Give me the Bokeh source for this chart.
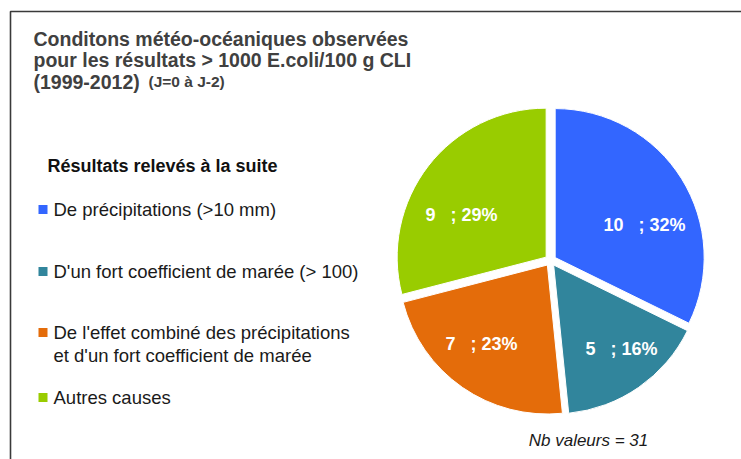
import numpy as np
from bokeh.plotting import figure
from bokeh.models import Range1d
from bokeh.core.properties import value
from bokeh.embed import file_html
from bokeh.resources import INLINE

# ---- data ----
categories = [
    "De précipitations (>10 mm)",
    "D'un fort coefficient de marée (> 100)",
    "De l'effet combiné des précipitations\net d'un fort coefficient de marée",
    "Autres causes",
]
counts = [10, 5, 7, 9]
colors = ["#3366FF", "#31859C", "#E46C0A", "#99CC00"]
title_lines = [
    "Conditons météo-océaniques observées",
    "pour les résultats > 1000 E.coli/100 g CLI",
    "(1999-2012)",
]
title_note = "(J=0 à J-2)"
legend_title = "Résultats relevés à la suite"

FONT = value("Liberation Sans")
W, H = 741, 459


def Y(py):  # picture y -> data y
    return 459 - py


p = figure(width=W, height=H, output_backend="svg", toolbar_location=None,
           x_range=Range1d(0, W), y_range=Range1d(459 - H, 459),
           x_axis_location=None, y_axis_location=None, min_border=0,
           outline_line_color=None, tools="")
p.grid.visible = False
p.background_fill_color = "white"
p.border_fill_color = "white"

# frame border (left + top)
p.line([10, 10, 760], [Y(480), Y(11), Y(11)], line_color="#3a3a3a", line_width=1.6)

# ---- pie ----
total = sum(counts)
frac = np.array(counts) / total
cum = np.concatenate([[0], np.cumsum(frac)])
start = np.radians(90 - cum[1:] * 360)
end = np.radians(90 - cum[:-1] * 360)
mid = (start + end) / 2
cx, cy, R, d = 550, Y(260), 149, 5.5
xs = cx + d * np.cos(mid)
ys = cy + d * np.sin(mid)
p.wedge(x=list(xs), y=list(ys), radius=R, start_angle=list(start), end_angle=list(end),
        direction="anticlock", fill_color=colors,
        line_color="white", line_width=1)

# data labels
label_pos = [(644, 224), (621, 348), (481, 343), (461, 214)]
labels = [f"{c}\u00a0\u00a0\u00a0;\u00a0{round(c / total * 100)}%" for c in counts]
p.text(x=[lp[0] for lp in label_pos], y=[Y(lp[1]) for lp in label_pos], text=labels,
       text_font=FONT, text_font_style="bold", text_font_size="18px",
       text_color="white", text_align="center", text_baseline="middle")

p.text(x=[588], y=[Y(440)], text=[f"Nb valeurs = {total}"], text_font=FONT,
       text_font_style="italic", text_font_size="17px", text_color="#1a1a1a",
       text_align="center", text_baseline="middle")

# ---- title ----
p.text(x=[33] * 3, y=[Y(38), Y(59), Y(81)], text=title_lines, text_font=FONT,
       text_font_style="bold", text_font_size="19.5px", text_color="#404040",
       text_align="left", text_baseline="alphabetic")
p.text(x=[148], y=[Y(81)], text=[title_note], text_font=FONT,
       text_font_style="bold", text_font_size="15.5px", text_color="#404040",
       text_align="left", text_baseline="alphabetic")

# ---- legend ----
p.text(x=[47], y=[Y(165)], text=[legend_title], text_font=FONT,
       text_font_style="bold", text_font_size="18px", text_color="#111111",
       text_align="left", text_baseline="middle")
item_y = [209, 271, 332, 397]
sq_x, sq_y, tx, ty, tt = [], [], [], [], []
for cat, iy in zip(categories, item_y):
    sq_x.append(42.5)
    sq_y.append(Y(iy))
    for i, line in enumerate(cat.split("\n")):
        tx.append(53)
        ty.append(Y(iy + i * 23))
        tt.append(line)
p.rect(x=sq_x, y=sq_y, width=9, height=9, fill_color=colors, line_color=None)
p.text(x=tx, y=ty, text=tt, text_font=FONT, text_font_size="18.5px",
       text_color="#1a1a1a", text_align="left", text_baseline="middle")

open("out.html", "w").write(file_html(p, INLINE))
